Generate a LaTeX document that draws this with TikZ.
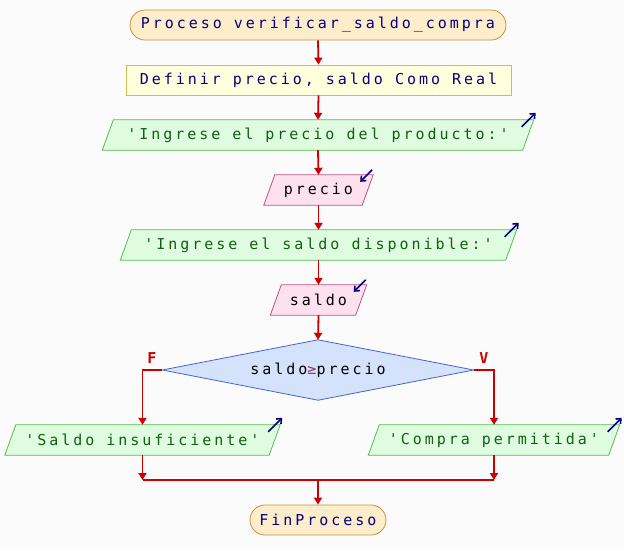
\documentclass[tikz,border=0pt]{standalone}
\usepackage{fontspec}
\setmonofont[LetterSpace=19.8]{DejaVu Sans Mono}
\usetikzlibrary{arrows.meta,calc,backgrounds}
\definecolor{bgc}{HTML}{FBFBFB}
\definecolor{termfill}{HTML}{FEEDCA}
\definecolor{termdraw}{HTML}{C89040}
\definecolor{deffill}{HTML}{FFFFDD}
\definecolor{defdraw}{HTML}{C8C050}
\definecolor{outfill}{HTML}{E0FCE0}
\definecolor{outdraw}{HTML}{50C050}
\definecolor{infill}{HTML}{FDE2EE}
\definecolor{indraw}{HTML}{C05080}
\definecolor{condfill}{HTML}{D4E2FC}
\definecolor{conddraw}{HTML}{4466CC}
\definecolor{navy}{HTML}{000080}
\definecolor{outtext}{HTML}{106010}
\definecolor{flow}{HTML}{CC0000}
\definecolor{gecol}{HTML}{A03070}
\tikzset{
  base/.style={rectangle, inner sep=0pt, minimum height=30pt, font=\ttfamily\fontsize{15}{17}\selectfont},
  term/.style={base, draw=termdraw, fill=termfill, rounded corners=15pt, text=navy, line width=0.8pt},
  defbox/.style={base, draw=defdraw, fill=deffill, text=navy, line width=0.8pt},
  outbox/.style={base, text=outtext},
  inbox/.style={base, text=black},
  outshape/.style={fill=outfill, draw=outdraw, line width=0.8pt},
  inshape/.style={fill=infill, draw=indraw, line width=0.8pt},
  flowline/.style={draw=flow, line width=1.8pt},
  flowarrow/.style={flowline, -{Triangle[width=8pt,length=7pt]}},
  icon/.style={draw=navy, line width=1.6pt, -{Straight Barb[length=4pt,width=7pt]}},
  lbl/.style={text=flow, font=\ttfamily\bfseries\fontsize{15}{17}\selectfont, inner sep=0pt}
}
\newcommand{\paral}[2]{%
  \path[#2] ($(#1.south west)+(-5.5,0)$) -- ($(#1.south east)+(-5.5,0)$) --
    ($(#1.north east)+(5.5,0)$) -- ($(#1.north west)+(5.5,0)$) -- cycle;}
\begin{document}
\begin{tikzpicture}[x=1pt,y=-1pt]
\useasboundingbox (0,0) rectangle (624,550);
% nodes
\node[term, minimum width=376pt] (start) at (318,25) {Proceso verificar\_saldo\_compra};
\node[defbox, minimum width=385pt] (def) at (318.5,80) {Definir precio, saldo Como Real};
\node[outbox, minimum width=420pt] (o1) at (318,135) {'Ingrese el precio del producto:'};
\node[inbox, minimum width=98pt] (in1) at (318.5,190) {precio};
\node[outbox, minimum width=385pt] (o2) at (318.5,245) {'Ingrese el saldo disponible:'};
\node[inbox, minimum width=85pt] (in2) at (318.5,300) {saldo};
\node[base, minimum width=311pt, minimum height=60pt] (cond) at (318,370) {saldo{\color{gecol}≥}precio};
\node[outbox, minimum width=264pt] (ol) at (142.5,440) {'Saldo insuficiente'};
\node[outbox, minimum width=240pt] (or) at (494,440) {'Compra permitida'};
\node[term, minimum width=136pt] (fin) at (318,520) {FinProceso};
\node[lbl] (lf) at (152,358) {F};
\node[lbl] (lv) at (484,358) {V};
\coordinate (merge) at (318,480);
% shapes behind
\begin{scope}[on background layer]
  \fill[bgc] (0,0) rectangle (624,550);
  \paral{o1}{outshape}
  \paral{in1}{inshape}
  \paral{o2}{outshape}
  \paral{in2}{inshape}
  \paral{ol}{outshape}
  \paral{or}{outshape}
  \path[fill=condfill, draw=conddraw, line width=0.8pt] (cond.north) -- (cond.east) -- (cond.south) -- (cond.west) -- cycle;
\end{scope}
% icons
\draw[icon] ($(o1.north east)+(5.5,0)+(-12,7)$) -- ++(14,-14);
\draw[icon] ($(o2.north east)+(5.5,0)+(-12,7)$) -- ++(14,-14);
\draw[icon] ($(ol.north east)+(5.5,0)+(-12,7)$) -- ++(14,-14);
\draw[icon] ($(or.north east)+(5.5,0)+(-12,7)$) -- ++(14,-14);
\draw[icon] ($(in1.north east)+(5.5,0)+(-1,-5)$) -- ++(-12,12);
\draw[icon] ($(in2.north east)+(5.5,0)+(-1,-5)$) -- ++(-12,12);
% connectors
\draw[flowarrow] (start.south) -- (def.north);
\draw[flowarrow] (def.south) -- (o1.north);
\draw[flowarrow] (o1.south) -- (in1.north);
\draw[flowarrow] (in1.south) -- (o2.north);
\draw[flowarrow] (o2.south) -- (in2.north);
\draw[flowarrow] (in2.south) -- (cond.north);
\draw[flowarrow] (cond.west) -| (ol.north);
\draw[flowarrow] (cond.east) -| (or.north);
\draw[flowarrow] (ol.south) -- (ol.south |- merge);
\draw[flowarrow] (or.south) -- (or.south |- merge);
\draw[flowline] (ol.south |- merge) -- (or.south |- merge);
\draw[flowarrow] (merge) -- (fin.north);
\end{tikzpicture}
\end{document}
